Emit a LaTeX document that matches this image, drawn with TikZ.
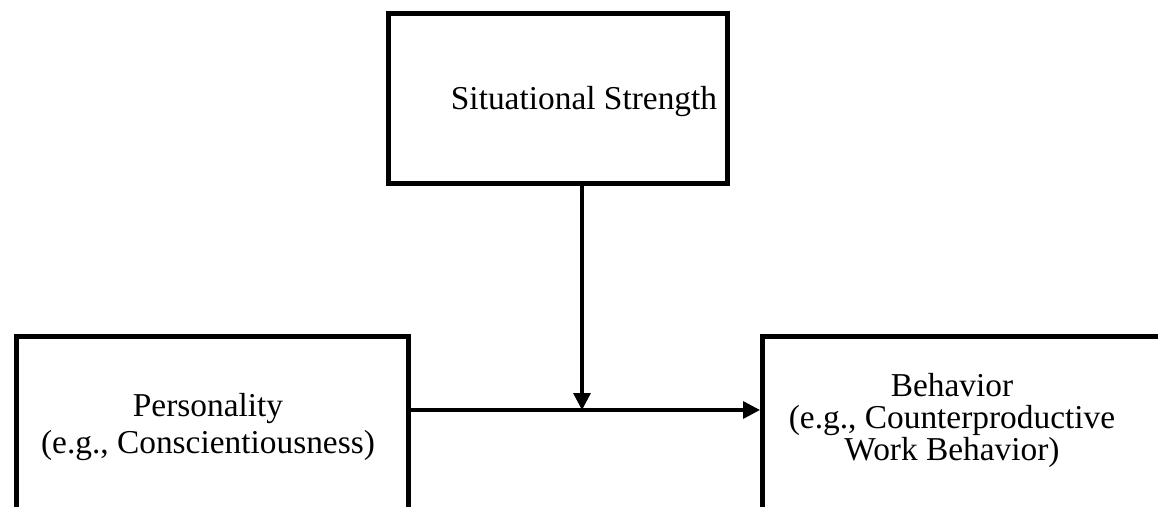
\documentclass[tikz,border=0pt]{standalone}
\usepackage{fontspec}
\setmainfont{Liberation Serif}
\usetikzlibrary{arrows.meta}

\begin{document}
\begin{tikzpicture}[>={Triangle[length=0.34cm,width=0.34cm]},
  box/.style={draw, line width=2.6pt, inner sep=0pt, anchor=north west},
  txt/.style={align=center, font=\fontsize{19}{21.5}\selectfont},
  link/.style={->, line width=1.9pt}]
\path[use as bounding box, clip] (0,0) rectangle (23.16,-10.14);
\node[box, minimum width=6.78cm, minimum height=3.4cm] (sit) at (7.72,-0.22) {};
\node[box, minimum width=7.84cm, minimum height=4cm] (pers) at (0.28,-6.68) {};
\node[box, minimum width=9cm, minimum height=4cm] (beh) at (15.2,-6.68) {};
\node[txt] (sittext) at (11.68,-2.04) {Situational Strength};
\node[txt] (perstext) at (4.16,-8.54) {Personality\\(e.g., Conscientiousness)};
\node[txt, font=\fontsize{19}{18.2}\selectfont] (behtext) at (19.04,-8.4)
  {Behavior\\(e.g., Counterproductive\\Work Behavior)};
\coordinate (mid) at (11.64,-8.2);
\draw[link] (pers.east |- mid) -- (beh.west |- mid);
\draw[link] (sit.south -| mid) -- (mid);
\end{tikzpicture}
\end{document}
